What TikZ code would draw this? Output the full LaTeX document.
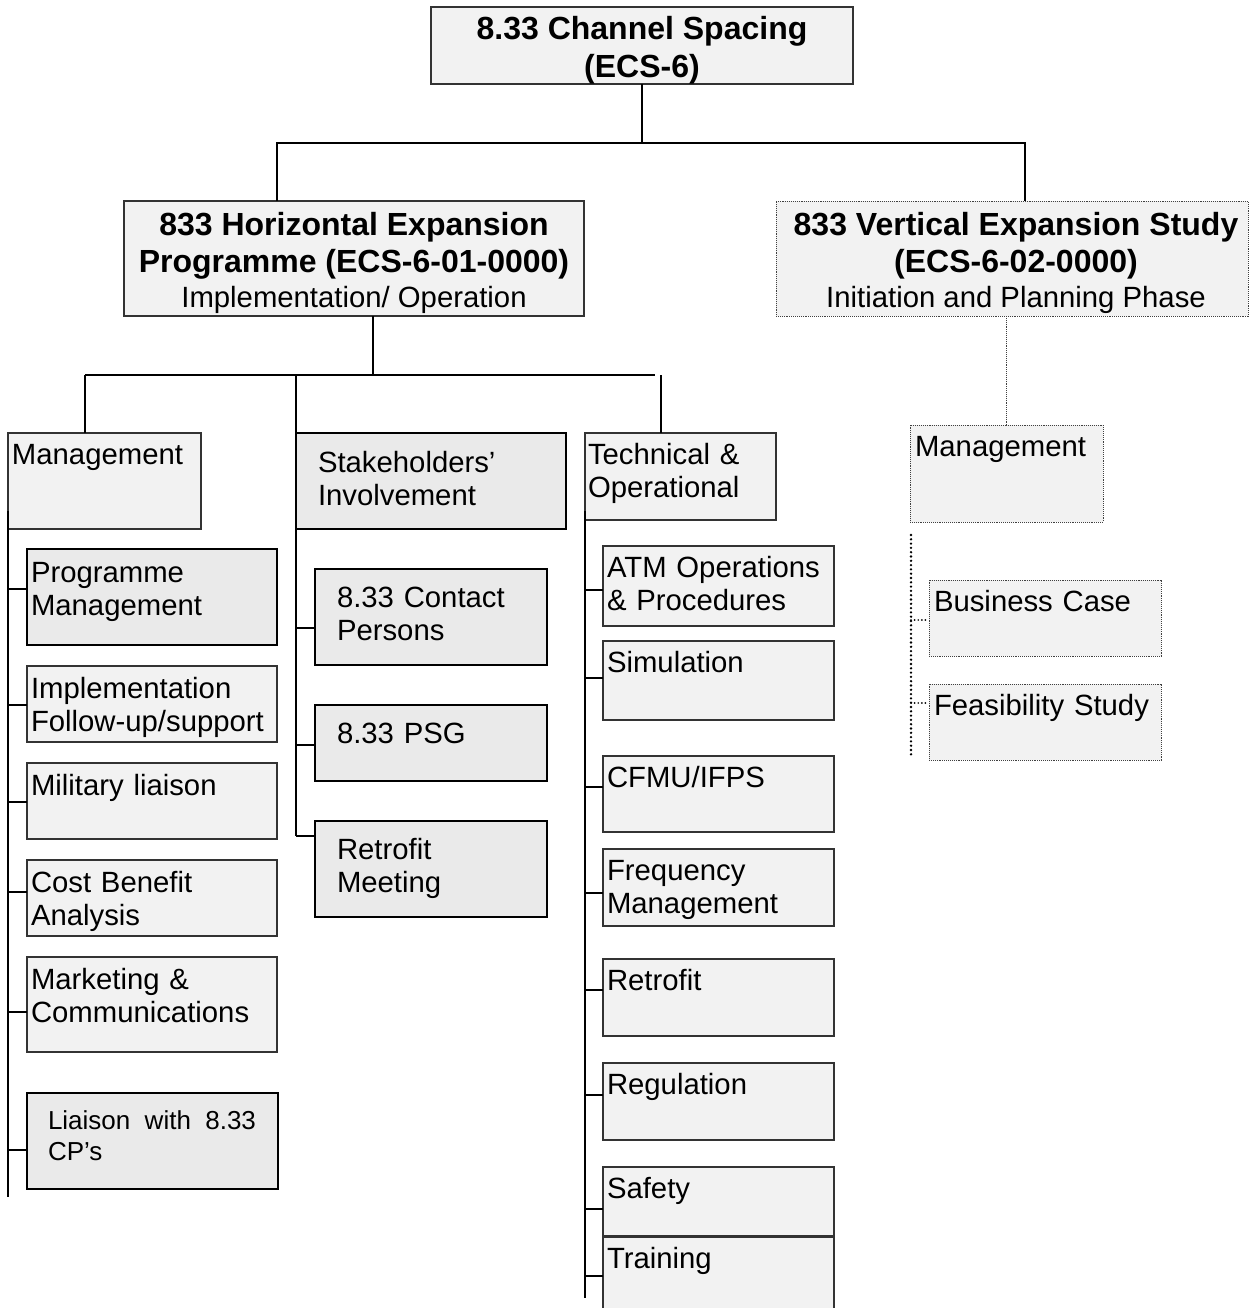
\documentclass[tikz,border=0pt]{standalone}
\usepackage{fontspec}
\setmainfont{Liberation Sans}
\definecolor{lightfill}{HTML}{F2F2F2}
\definecolor{darkfill}{HTML}{EAEAEA}
\newcommand\bx[6]{\node[#2, minimum width=#5pt, minimum height=#6pt, anchor=north west] (#1) at (#3,#4) {};}
\begin{document}
\begin{tikzpicture}[x=1pt,y=-1pt,
  box/.style={rectangle, draw=black!80, line width=1.3pt, fill=lightfill, inner sep=0pt, outer sep=0pt},
  pmbox/.style={box, draw=black, line width=1.6pt, fill=darkfill},
  thickbox/.style={box, draw=black, line width=2.5pt, fill=darkfill},
  dotbox/.style={box, draw=black!75, line width=0.9pt, densely dotted},
  txt/.style={anchor=base west, inner sep=0pt, outer sep=0pt, text width=250pt, align=left, font=\fontsize{29.3}{33.7}\selectfont},
  hd/.style={anchor=base, inner sep=0pt, font=\fontsize{32}{38}\selectfont\bfseries},
  hs/.style={anchor=base, inner sep=0pt, font=\fontsize{29.3}{34}\selectfont},
  conn/.style={line width=2.2pt, black},
  thinconn/.style={line width=1.6pt, black},
  dotconn/.style={line width=0.9pt, densely dotted, black!75},
  dotheavy/.style={line width=2.6pt, line cap=round, dash pattern=on 0pt off 4.3pt, black},
  dotsmall/.style={line width=1.9pt, line cap=round, dash pattern=on 0pt off 3.6pt, black}
]
\useasboundingbox (0,0) rectangle (1250,1308);

% boxes
\bx{top}{box}{431}{7}{422}{77}
\bx{he}{box}{124}{201}{460}{115}
\bx{ve}{dotbox}{776}{201}{472}{115}
\bx{mg}{box}{8}{433}{193}{96}
\bx{sh}{thickbox}{296}{433}{270}{96}
\bx{to}{box}{585}{433}{191}{87}
\bx{vm}{dotbox}{910}{425}{193}{97}
\bx{pm}{pmbox}{27}{549}{250}{96}
\bx{im}{box}{27}{666}{250}{76}
\bx{ml}{box}{27}{763}{250}{76}
\bx{cb}{box}{27}{860}{250}{76}
\bx{mc}{box}{27}{957}{250}{95}
\bx{lc}{thickbox}{27}{1093}{251}{96}
\bx{cp}{thickbox}{315}{569}{232}{96}
\bx{ps}{thickbox}{315}{705}{232}{76}
\bx{rm}{thickbox}{315}{821}{232}{96}
\bx{atm}{box}{603}{546}{231}{80}
\bx{sim}{box}{603}{641}{231}{79}
\bx{cf}{box}{603}{756}{231}{76}
\bx{fm}{box}{603}{849}{231}{77}
\bx{rt}{box}{603}{959}{231}{77}
\bx{rg}{box}{603}{1063}{231}{77}
\bx{sf}{box}{603}{1167}{231}{69}
\bx{tr}{box}{603}{1237}{231}{80}
\bx{bc}{dotbox}{929}{580}{232}{76}
\bx{fs}{dotbox}{929}{684}{232}{76}

% header texts
\node[hd] (top-1) at (642,40) {8.33 Channel Spacing};
\node[hd] (top-2) at (642,78) {(ECS-6)};
\node[hd] (he-1) at (354,235) {833 Horizontal Expansion};
\node[hd] (he-2) at (354,272) {Programme (ECS-6-01-0000)};
\node[hs] (he-3) at (354,307) {Implementation/ Operation};
\node[hd] (ve-1) at (1016,235) {833 Vertical Expansion Study};
\node[hd] (ve-2) at (1016,272) {(ECS-6-02-0000)};
\node[hs] (ve-3) at (1016,307) {Initiation and Planning Phase};

% box texts
\node[txt] (mg-t) at (12,464) {Management};
\node[txt] (sh-t) at (318,472) {Stakeholders’\\Involvement};
\node[txt] (to-t) at (588,464) {Technical \&\\Operational};
\node[txt] (vm-t) at (915,456) {Management};
\node[txt] (pm-t) at (31,582) {Programme\\Management};
\node[txt] (im-t) at (31,698) {Implementation\\Follow-up/support};
\node[txt] (ml-t) at (31,795) {Military liaison};
\node[txt] (cb-t) at (31,892) {Cost Benefit\\Analysis};
\node[txt] (mc-t) at (31,989) {Marketing \&\\Communications};
\node[txt, text width=208pt, align=justify, font=\fontsize{26}{31}\selectfont] (lc-t) at (48,1129) {Liaison with 8.33 CP’s};
\node[txt] (cp-t) at (337,607) {8.33 Contact\\Persons};
\node[txt] (ps-t) at (337,743) {8.33 PSG};
\node[txt] (rm-t) at (337,859) {Retrofit\\Meeting};
\node[txt] (atm-t) at (607,577) {ATM Operations\\\& Procedures};
\node[txt] (sim-t) at (607,672) {Simulation};
\node[txt] (cf-t) at (607,787) {CFMU/IFPS};
\node[txt] (fm-t) at (607,880) {Frequency\\Management};
\node[txt] (rt-t) at (607,990) {Retrofit};
\node[txt] (rg-t) at (607,1094) {Regulation};
\node[txt] (sf-t) at (607,1198) {Safety};
\node[txt] (tr-t) at (607,1268) {Training};
\node[txt] (bc-t) at (934,611) {Business Case};
\node[txt] (fs-t) at (934,715) {Feasibility Study};

% top level connectors
\coordinate (a1) at (277,143);
\coordinate (a2) at (1025,143);
\draw[conn] (top.south) -- (top.south |- a1);
\draw[conn] (a1 |- he.north) -- (a1) -- (a2) -- (a2 |- ve.north);

% second level
\coordinate (b0) at (373,375);
\coordinate (b1) at (85,375);
\coordinate (b2) at (655,375);
\coordinate (b3) at (296,375);
\coordinate (b4) at (661,375);
\coordinate (s1) at (296,836);
\draw[conn] (he.south -| b0) -- (b0);
\draw[thinconn] (b1) -- (b2);
\draw[conn] (b1) -- (b1 |- mg.north);
\draw[conn] (b3) -- (s1);
\draw[conn] (b4) -- (b4 |- to.north);

% management column
\coordinate (m0) at (8,511);
\coordinate (m1) at (8,1197);
\draw[conn] (m0) -- (m1);
\draw[conn] (m0 |- 0,589) -- (pm.west |- 0,589);
\draw[conn] (m0 |- 0,705) -- (im.west |- 0,705);
\draw[conn] (m0 |- 0,802) -- (ml.west |- 0,802);
\draw[conn] (m0 |- 0,892) -- (cb.west |- 0,892);
\draw[conn] (m0 |- 0,1012) -- (mc.west |- 0,1012);
\draw[conn] (m0 |- 0,1150) -- (lc.west |- 0,1150);

% stakeholders column
\draw[conn] (b3 |- 0,628) -- (cp.west |- 0,628);
\draw[conn] (b3 |- 0,745) -- (ps.west |- 0,745);
\draw[conn] (s1) -- (rm.west |- s1);

% technical column
\coordinate (t0) at (585,511);
\coordinate (t1) at (585,1298);
\draw[conn] (t0) -- (t1);
\draw[conn] (t0 |- 0,590) -- (atm.west |- 0,590);
\draw[conn] (t0 |- 0,678) -- (sim.west |- 0,678);
\draw[conn] (t0 |- 0,787) -- (cf.west |- 0,787);
\draw[conn] (t0 |- 0,893) -- (fm.west |- 0,893);
\draw[conn] (t0 |- 0,990) -- (rt.west |- 0,990);
\draw[conn] (t0 |- 0,1095) -- (rg.west |- 0,1095);
\draw[conn] (t0 |- 0,1209) -- (sf.west |- 0,1209);
\draw[conn] (t0 |- 0,1276) -- (tr.west |- 0,1276);

% vertical expansion
\draw[dotconn] (ve.south -| 1006,0) -- (vm.north -| 1006,0);
\coordinate (v0) at (911,535);
\coordinate (v1) at (911,757);
\draw[dotheavy] (v0) -- (v1);
\draw[dotsmall] (v0 |- 0,620) -- (bc.west |- 0,620);
\draw[dotsmall] (v0 |- 0,703) -- (fs.west |- 0,703);
\end{tikzpicture}
\end{document}
